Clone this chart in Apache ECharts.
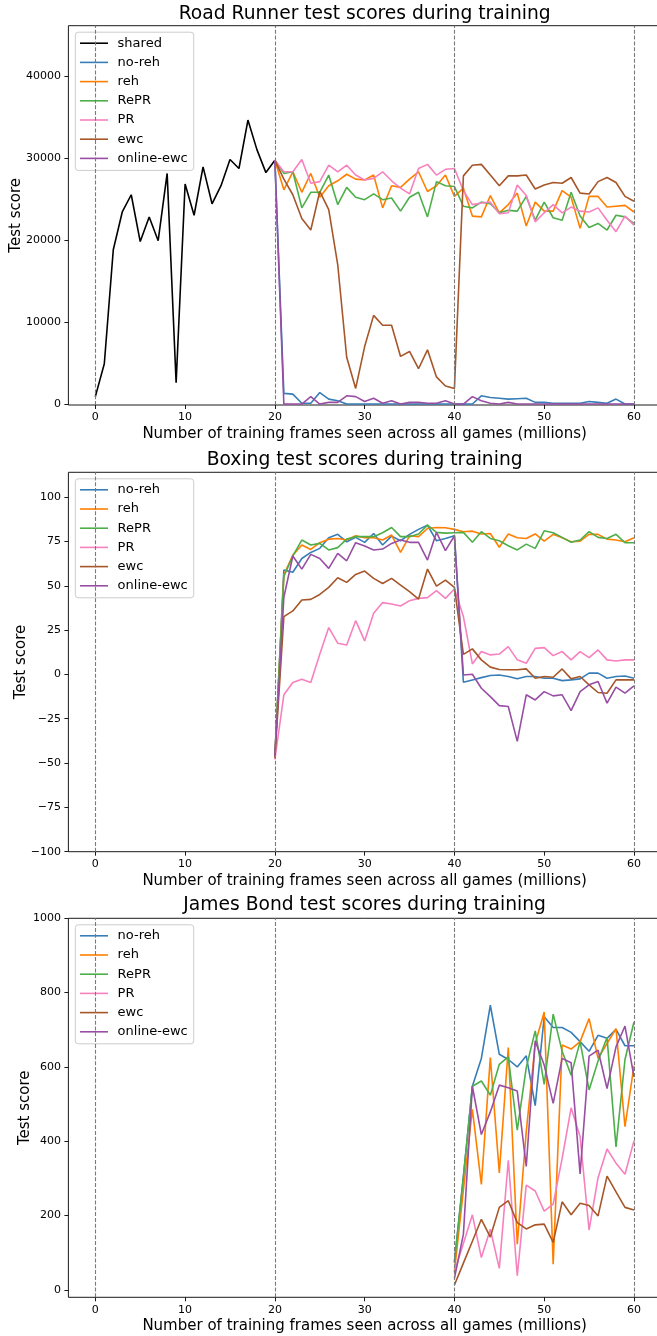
<!DOCTYPE html>
<html>
<head>
<meta charset="utf-8">
<script src="https://cdn.jsdelivr.net/npm/echarts@6/dist/echarts.min.js"></script>
<style>
html,body{margin:0;padding:0;background:#fff;}
#chart{width:657px;height:1336px;}
</style>
</head>
<body>
<div id="chart"></div>
<script>
// ---------- data ----------
const FRAMES_0_20 = [0,1,2,3,4,5,6,7,8,9,10,11,12,13,14,15,16,17,18,19,20];
const FRAMES_20_60 = [20,21,22,23,24,25,26,27,28,29,30,31,32,33,34,35,36,37,38,39,40,41,42,43,44,45,46,47,48,49,50,51,52,53,54,55,56,57,58,59,60];
const FRAMES_40_60 = [40,41,42,43,44,45,46,47,48,49,50,51,52,53,54,55,56,57,58,59,60];
const GAME_BOUNDARIES = [0, 20, 40, 60];

const X_TICKS = [0, 10, 20, 30, 40, 50, 60];
const RR_Y_TICKS = [0, 10000, 20000, 30000, 40000];
const BOX_Y_TICKS = [-100, -75, -50, -25, 0, 25, 50, 75, 100];
const JB_Y_TICKS = [0, 200, 400, 600, 800, 1000];

const METHODS = ['no-reh', 'reh', 'RePR', 'PR', 'ewc', 'online-ewc'];

// Road Runner
const rrShared = [900,4900,18800,23400,25500,19800,22800,19900,28100,2600,26800,23000,28900,24400,26600,29800,28700,34600,31000,28200,29700];
const rrNoReh = [29700,1300,1200,100,100,1400,600,400,0,0,0,0,0,0,0,0,0,0,0,0,0,
  0,0,1000,800,700,600,650,700,200,200,100,100,100,100,300,200,100,600,0,0];
const rrReh = [29700,26100,28300,25800,28100,25200,26600,27200,28000,27400,27300,27900,23900,26600,26400,27400,28300,25900,26600,27900,25300,
  26300,22900,22800,25400,23300,24300,25700,21700,24600,23500,23500,26000,25200,21400,25300,25300,24000,24100,24200,23400];
const rrRePR = [29700,28100,28300,23900,25800,25800,27900,24300,26400,25200,24900,25600,24900,25100,23500,25200,25800,22800,27100,26600,26500,
  24100,23900,24600,24400,23300,23600,23500,25300,22400,24600,22700,22400,25800,22900,21500,22000,21200,23000,22800,22000];
const rrPR = [29700,28300,28300,29800,26900,27100,29100,28300,29100,27900,27300,27500,28300,27200,26300,25600,28700,29200,27900,28600,28700,
  26000,24300,24500,24600,23200,23300,26700,25400,22200,23300,24300,23300,24000,23500,23400,23900,22400,21000,22900,21800];
const rrEwc = [29700,27400,25500,22600,21200,25900,23700,17000,5700,1900,7000,10800,9600,9600,5800,6400,4300,6600,3300,2200,1900,
  27800,29100,29200,27900,26600,27800,27800,27900,26200,26700,27000,26900,27600,25700,25600,27100,27600,27000,25300,24700];
const rrOnlineEwc = [29700,0,0,0,900,0,200,200,1000,900,300,700,100,400,0,200,200,100,100,400,0,
  0,900,400,100,0,200,0,0,0,0,0,0,0,0,0,0,0,0,0,0];

// Boxing
const boxNoReh = [-46,58.9,57.6,65.4,68.8,71.1,77.1,79.0,74.8,77.3,74.5,79.5,73.0,78.0,75.4,79.0,81.8,84.2,75.4,76.7,78.2,
  -4.4,-3.1,-1.8,-0.6,-0.3,-1.2,-2.5,-1.2,-1.2,-2.2,-2.2,-3.5,-3.1,-2.5,0.7,0.7,-2.2,-1.2,-0.9,-2.2];
const boxReh = [-46,56.1,67.3,73.0,70.5,74.3,76.3,76.7,75.8,78.2,77.1,77.1,75.8,78.6,68.8,78.2,77.7,82.3,82.9,82.7,81.8,
  80.5,80.8,79.2,79.5,71.7,79.2,77.1,76.7,79.2,75.2,79.0,77.1,74.8,75.2,79.0,79.0,76.3,75.8,74.8,77.1];
const boxRePR = [-46,55.2,66.8,75.8,73.0,73.9,70.2,71.5,76.3,77.7,77.7,77.7,79.9,82.9,77.7,77.7,79.2,84.2,80.1,79.7,79.9,
  80.1,74.5,80.5,76.7,75.4,72.6,70.2,73.5,71.1,81.0,79.9,77.3,74.5,75.8,80.5,77.3,76.7,79.0,74.3,74.3];
const boxPR = [-48,-11.5,-4.6,-2.7,-4.6,11.4,26.4,17.6,16.6,30.3,18.9,34.5,40.5,39.7,38.6,41.6,42.9,43.3,47.2,42.9,48.2,
  32.6,5.9,12.9,11.0,11.5,15.7,8.2,6.3,14.7,15.1,10.6,12.9,8.2,12.9,9.5,13.8,8.2,7.6,8.2,8.2];
const boxEwc = [-47,32.6,35.8,42.0,42.3,45.1,49.1,54.5,51.9,56.4,58.3,54.2,51.3,54.2,50.4,46.7,42.5,59.4,49.8,53.2,49.1,
  11.3,14.4,8.2,4.1,2.8,2.6,2.6,3.1,-2.2,-1.2,-1.6,3.1,-2.5,-1.2,-5.9,-10.2,-10.6,-3.1,-3.1,-3.1];
const boxOnlineEwc = [-46,43.5,66.8,59.4,67.7,65.4,59.8,68.3,64.1,74.3,72.4,70.2,70.7,73.9,75.8,74.5,74.5,64.5,80.1,69.8,78.2,
  -0.3,0.1,-7.8,-12.5,-17.6,-18.1,-37.8,-11.5,-14.4,-9.7,-12.1,-11.5,-20.4,-9.7,-5.9,-4.0,-16.2,-7.2,-10.6,-6.5];

// James Bond
const jbNoReh = [76,305,548,623,766,634,620,600,630,496,735,706,706,693,668,642,685,677,701,657,657];
const jbReh = [49,269,486,284,625,315,652,123,426,663,748,69,659,648,668,730,623,663,703,439,603];
const jbRePR = [72,305,548,562,524,607,627,430,598,697,553,742,642,578,668,538,616,679,385,620,721];
const jbPR = [49,125,202,87,163,58,349,38,282,266,212,231,354,490,412,161,302,379,341,311,401];
const jbEwc = [13,72,131,190,142,222,240,181,164,175,177,128,237,202,233,227,199,306,264,222,215];
const jbOnlineEwc = [31,150,548,418,479,551,544,535,332,670,605,502,623,611,312,629,645,542,654,710,573];

// ---------- styling ----------
const FONT = 'DejaVu Sans';
const COLORS = {
  'shared': '#000000',
  'no-reh': '#377eb8',
  'reh': '#ff7f00',
  'RePR': '#4daf4a',
  'PR': '#f781bf',
  'ewc': '#a65628',
  'online-ewc': '#984ea3'
};
const GRID_LEFT = 68.4, GRID_WIDTH = 592.5;
const GRIDS = [
  {top: 25.7, height: 379.3},
  {top: 472.3, height: 379.4},
  {top: 918.3, height: 379}
];
const TITLES = ['Road Runner test scores during training', 'Boxing test scores during training', 'James Bond test scores during training'];
const TITLE_Y = [14, 460, 905.5];
const Y_RANGES = [[-120, 46100], [-100, 114], [-20, 1000]];
const Y_TICKS = [RR_Y_TICKS, BOX_Y_TICKS, JB_Y_TICKS];
const Y_NAME_GAP = [45, 40, 36];

function fmt(v) { return v < 0 ? '\u2212' + Math.abs(v) : String(v); }

function line(name, xs, ys, gi) {
  return {
    type: 'line', name: name, xAxisIndex: gi, yAxisIndex: gi,
    data: xs.map((x, i) => [x, ys[i]]),
    symbol: 'none', showSymbol: false, clip: true,
    lineStyle: {color: COLORS[name], width: 1.6},
    itemStyle: {color: COLORS[name]},
    emphasis: {disabled: true}
  };
}
function boundaries(gi) {
  return {
    type: 'line', xAxisIndex: gi, yAxisIndex: gi, data: [], silent: true, z: 1,
    markLine: {
      silent: true, symbol: 'none', label: {show: false}, animation: false,
      lineStyle: {type: [4, 1.8], color: '#7a7a7a', width: 1.1},
      emphasis: {disabled: true},
      data: GAME_BOUNDARIES.map(v => ({xAxis: v}))
    }
  };
}

const series = [
  boundaries(0), boundaries(1), boundaries(2),
  line('shared', FRAMES_0_20, rrShared, 0),
  line('no-reh', FRAMES_20_60, rrNoReh, 0),
  line('reh', FRAMES_20_60, rrReh, 0),
  line('RePR', FRAMES_20_60, rrRePR, 0),
  line('PR', FRAMES_20_60, rrPR, 0),
  line('ewc', FRAMES_20_60, rrEwc, 0),
  line('online-ewc', FRAMES_20_60, rrOnlineEwc, 0),
  line('no-reh', FRAMES_20_60, boxNoReh, 1),
  line('reh', FRAMES_20_60, boxReh, 1),
  line('RePR', FRAMES_20_60, boxRePR, 1),
  line('PR', FRAMES_20_60, boxPR, 1),
  line('ewc', FRAMES_20_60, boxEwc, 1),
  line('online-ewc', FRAMES_20_60, boxOnlineEwc, 1),
  line('no-reh', FRAMES_40_60, jbNoReh, 2),
  line('reh', FRAMES_40_60, jbReh, 2),
  line('RePR', FRAMES_40_60, jbRePR, 2),
  line('PR', FRAMES_40_60, jbPR, 2),
  line('ewc', FRAMES_40_60, jbEwc, 2),
  line('online-ewc', FRAMES_40_60, jbOnlineEwc, 2)
];

const grid = GRIDS.map(g => ({
  left: GRID_LEFT, top: g.top, width: GRID_WIDTH, height: g.height,
  containLabel: false, outerBoundsMode: 'none',
  show: true, borderColor: '#000', borderWidth: 0.9, backgroundColor: 'rgba(0,0,0,0)'
}));

const xAxis = GRIDS.map((g, i) => ({
  type: 'value', gridIndex: i, min: -3, max: 63,
  axisLine: {show: false, onZero: false},
  axisTick: {show: true, length: 4, inside: false, customValues: X_TICKS, lineStyle: {color: '#000', width: 0.9}},
  axisLabel: {customValues: X_TICKS, color: '#000', fontSize: 11, fontFamily: FONT, margin: 7, formatter: fmt},
  splitLine: {show: false},
  name: 'Number of training frames seen across all games (millions)',
  nameLocation: 'middle', nameGap: 21.5, nameMoveOverlap: false,
  nameTextStyle: {color: '#000', fontSize: 15, fontFamily: FONT}
}));

const yAxis = GRIDS.map((g, i) => ({
  type: 'value', gridIndex: i, min: Y_RANGES[i][0], max: Y_RANGES[i][1],
  axisLine: {show: false, onZero: false},
  axisTick: {show: true, length: 4, inside: false, customValues: Y_TICKS[i], lineStyle: {color: '#000', width: 0.9}},
  axisLabel: {customValues: Y_TICKS[i], color: '#000', fontSize: 11, fontFamily: FONT, margin: 7.5, formatter: fmt},
  splitLine: {show: false},
  name: 'Test score', nameLocation: 'middle', nameRotate: 90, nameGap: Y_NAME_GAP[i], nameMoveOverlap: false,
  nameTextStyle: {color: '#000', fontSize: 15, fontFamily: FONT}
}));

const legendNames = [['shared'].concat(METHODS), METHODS, METHODS];
const legend = GRIDS.map((g, i) => ({
  show: true, orient: 'vertical', left: 75.3, top: g.top + 6.5,
  data: legendNames[i],
  icon: 'rect',
  itemWidth: 28, itemHeight: 1.6, itemGap: 6.2,
  padding: [4.5, 6, 5.5, 4.7],
  backgroundColor: 'rgba(255,255,255,0.8)',
  borderColor: '#cccccc', borderWidth: 1, borderRadius: 3,
  selectedMode: false,
  textStyle: {color: '#000', fontSize: 13, fontFamily: FONT, padding: [0, 0, 0, 4.6]}
}));

const graphic = TITLES.map((t, i) => ({
  type: 'text', x: GRID_LEFT + GRID_WIDTH / 2, y: TITLE_Y[i], silent: true,
  style: {text: t, fill: '#000', fontSize: 18.7, fontFamily: FONT,
    align: 'center', verticalAlign: 'middle', textAlign: 'center', textVerticalAlign: 'middle'}
}));

const chart = echarts.init(document.getElementById('chart'), null, {renderer: 'canvas'});
chart.setOption({
  animation: false,
  backgroundColor: '#ffffff',
  grid: grid, xAxis: xAxis, yAxis: yAxis, legend: legend,
  graphic: graphic, series: series
});
</script>
</body>
</html>
